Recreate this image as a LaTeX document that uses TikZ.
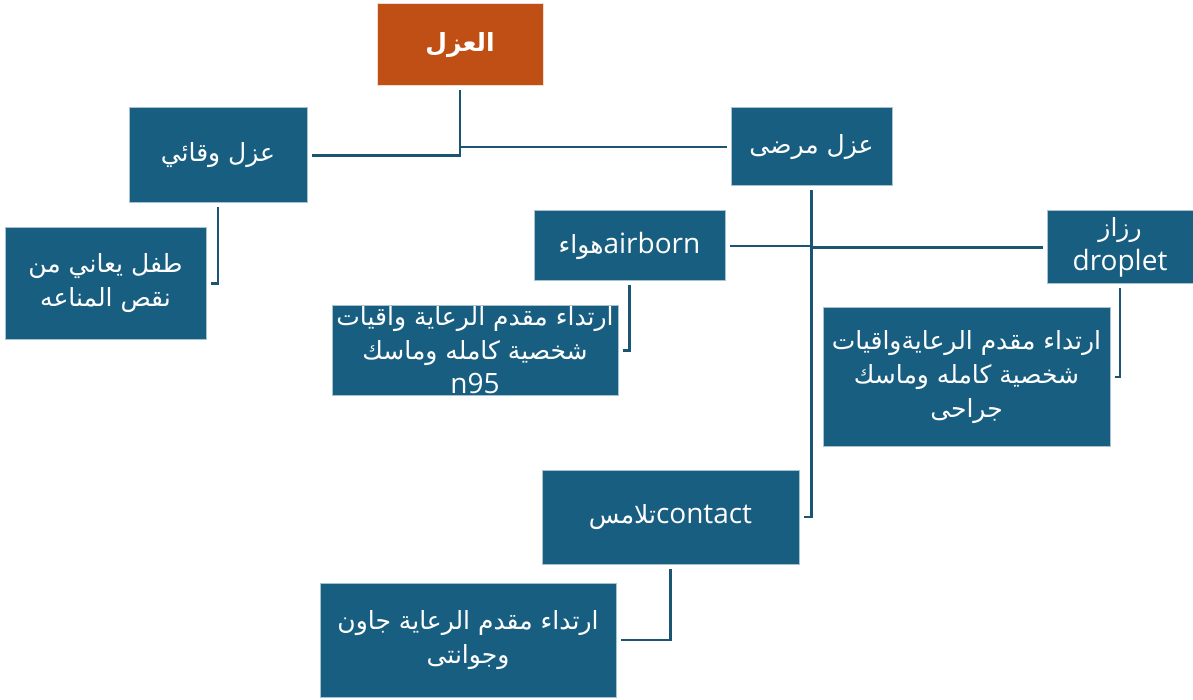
\documentclass[tikz,border=0pt]{standalone}
\usepackage{fontspec}
\setmainfont{Open Sans}
\newfontfamily\arabicfont[Script=Arabic]{DejaVu Sans}
\TeXXeTstate=1
\usepackage{tikz}

\definecolor{boxblue}{HTML}{185E80}
\definecolor{titleorange}{HTML}{C04F15}
\definecolor{linkblue}{HTML}{1A5673}
\definecolor{boxedge}{HTML}{A9C2D0}

\newcommand{\artext}[1]{{\fontsize{25}{34}\arabicfont\beginR #1\endR}}

\begin{document}
\begin{tikzpicture}[x=1pt,y=-1pt,
    box/.style={rectangle, fill=boxblue, draw=boxedge, line width=1pt, text=white,
      align=center, inner sep=0pt, font=\fontsize{28}{34}\selectfont},
    title/.style={box, fill=titleorange, draw=white!80!titleorange},
    link/.style={draw=linkblue, line width=2.5pt, shorten >=4pt, shorten <=4pt}]
    \useasboundingbox (0,0) rectangle (1193,700);
    \node[title, minimum width=166pt, minimum height=82pt] (azl) at (460,45) {\bfseries\artext{العزل}};
    \node[box, minimum width=178pt, minimum height=95pt] (wiqai) at (218,155.5) {\artext{عزل وقائي}};
    \node[box, minimum width=161pt, minimum height=78pt] (marda) at (811.5,147) {\artext{عزل مرضى}};
    \node[box, minimum width=201pt, minimum height=111pt] (tifl) at (105.5,283.5) {\artext{طفل يعاني من}\\\artext{نقص المناعه}};
    \node[box, minimum width=191pt, minimum height=70pt] (hawa) at (629.5,246) {\artext{هواء}airborn};
    \node[box, minimum width=146pt, minimum height=73pt] (razaz) at (1120,247.5) {\artext{رزاز}\\droplet};
    \node[box, minimum width=286pt, minimum height=89pt, inner ysep=-12pt] (n95) at (475,350.5) {\artext{ارتداء مقدم الرعاية واقيات}\\\artext{شخصية كامله وماسك}\\n95};
    \node[box, minimum width=287pt, minimum height=138pt] (jarahi) at (966.5,377) {\artext{ارتداء مقدم الرعايةواقيات}\\\artext{شخصية كامله وماسك}\\\artext{جراحى}};
    \node[box, minimum width=257pt, minimum height=94pt] (talamus) at (670.5,517) {\artext{تلامس}contact};
    \node[box, minimum width=296pt, minimum height=114pt] (gown) at (468,640) {\artext{ارتداء مقدم الرعاية جاون}\\\artext{وجوانتى}};

    \draw[link] (azl.south) |- (wiqai.east);
    \draw[link] (azl.south) |- (marda.west);
    \draw[link] (wiqai.south) |- (tifl.east);
    \draw[link] (marda.south) |- (hawa.east);
    \draw[link] (marda.south) |- (razaz.west);
    \draw[link] (marda.south) |- (talamus.east);
    \draw[link] (hawa.south) |- (n95.east);
    \draw[link] (razaz.south) |- (jarahi.east);
    \draw[link] (talamus.south) |- (gown.east);
\end{tikzpicture}
\end{document}
